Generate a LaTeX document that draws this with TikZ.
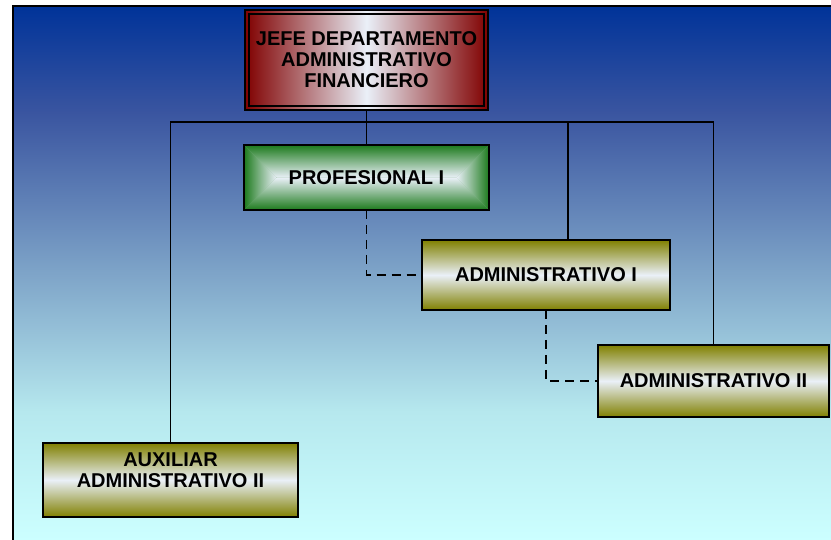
\documentclass[tikz,border=0pt]{standalone}
\usepackage{fontspec}
\setmainfont{Liberation Sans}
\usetikzlibrary{backgrounds,calc}

\definecolor{bgtop}{HTML}{003399}
\definecolor{bgA}{HTML}{3A55A0}
\definecolor{bgB}{HTML}{7EA4C8}
\definecolor{bgC}{HTML}{B6E8EE}
\definecolor{bgbot}{HTML}{CCFFFF}
\definecolor{maroonbox}{HTML}{800000}
\definecolor{olivebox}{HTML}{808000}
\definecolor{greenbox}{HTML}{1C7A1C}
\definecolor{glow}{HTML}{EAF0F8}

% backdrop fade, bottom to top; the 25bp--75bp band covers the filled area
\pgfdeclareverticalshading{backdrop}{100bp}{%
  color(0bp)=(bgbot); color(25bp)=(bgbot); color(37bp)=(bgC);
  color(50bp)=(bgB); color(65bp)=(bgA); color(75bp)=(bgtop); color(100bp)=(bgtop)}

\tikzset{
  boxtext/.style={font=\fontsize{20pt}{21pt}\selectfont\bfseries, align=center, inner sep=0pt},
  box/.style={boxtext, rectangle, draw=black, line width=1.4pt, outer sep=0pt},
  olive/.style={box, top color=olivebox, bottom color=olivebox, middle color=glow},
  redbox/.style={box, left color=maroonbox, right color=maroonbox, middle color=glow},
  link/.style={draw=black, line width=1.5pt},
  dashlink/.style={link, dash pattern=on 9pt off 6pt},
}

\begin{document}
\begin{tikzpicture}[x=1pt, y=-1pt]
  \useasboundingbox (0,0) rectangle (831,540);

  % organisation boxes
  \node[redbox, minimum width=243pt, minimum height=100pt] (jefe) at (366.5,60)
    {JEFE DEPARTAMENTO\\ADMINISTRATIVO\\FINANCIERO};
  \draw[line width=1.2pt] ([shift={(4pt,-4pt)}]jefe.north west) rectangle ([shift={(-4pt,4pt)}]jefe.south east);

  \node[box, minimum width=245pt, minimum height=65pt] (prof) at (366.5,177.5) {PROFESIONAL I};
  \node[olive, minimum width=248pt, minimum height=70pt] (adm1) at (546,275) {ADMINISTRATIVO I};
  \node[olive, minimum width=231pt, minimum height=72pt] (adm2) at (713.5,381) {ADMINISTRATIVO II};
  \node[olive, minimum width=255pt, minimum height=74pt] (aux) at (170.5,480) {};
  \node[boxtext] (auxlabel) at ([yshift=10pt]aux.center) {AUXILIAR\\ADMINISTRATIVO II};

  % solid reporting lines
  \coordinate (bus) at (0,122);
  \coordinate (adm1top) at ([xshift=22pt]adm1.north);
  \draw[link] (jefe.south) -- (jefe.south |- bus);
  \draw[link] (aux.north) |- (adm2.north |- bus) -- (adm2.north);
  \draw[link] (prof.north) -- (prof.north |- bus);
  \draw[link] (adm1top) -- (adm1top |- bus);

  % dashed staff lines
  \draw[dashlink] (prof.south) |- (adm1.west);
  \draw[dashlink] (adm1.south) |- (adm2.west);

  \begin{pgfonlayer}{background}
    % page backdrop and frame
    \shade[shading=backdrop] (13,6) rectangle (831,540);
    \draw[line width=1.5pt] (831,6) -- (13,6) -- (13,540);

    % rectangular glow inside the green box
    \fill[greenbox!50!glow] (prof.north west) rectangle (prof.south east);
    \coordinate (pl) at ($(prof.west)+(32.5pt,0)$);
    \coordinate (pr) at ($(prof.east)+(-32.5pt,0)$);
    \shade[top color=greenbox, bottom color=glow] (prof.north west) -- (prof.north east) -- (pr) -- (pl) -- cycle;
    \shade[top color=glow, bottom color=greenbox] (prof.south west) -- (prof.south east) -- (pr) -- (pl) -- cycle;
    \shade[left color=greenbox, right color=glow] (prof.north west) -- (pl) -- (prof.south west) -- cycle;
    \shade[left color=glow, right color=greenbox] (prof.north east) -- (pr) -- (prof.south east) -- cycle;
  \end{pgfonlayer}
\end{tikzpicture}
\end{document}
